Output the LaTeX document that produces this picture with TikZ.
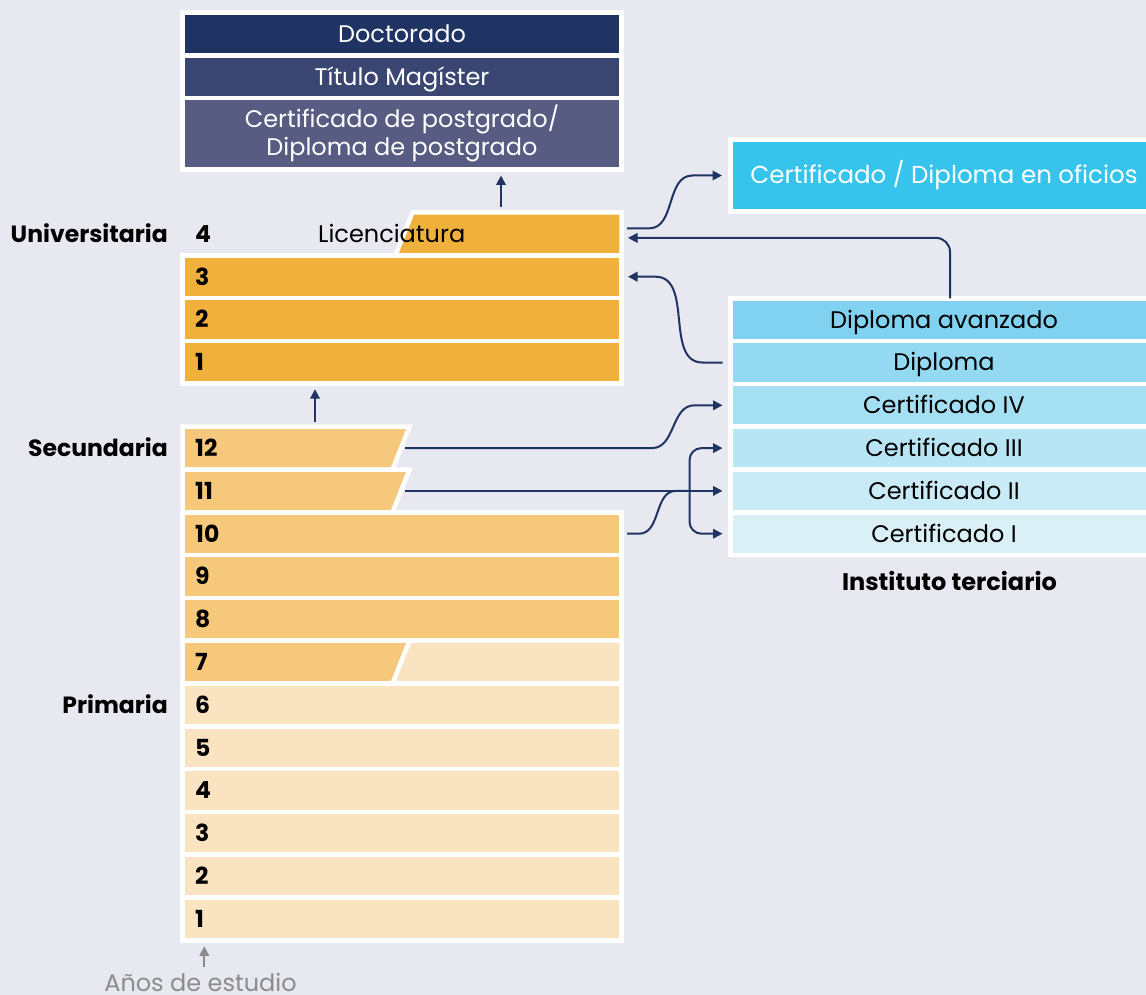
\documentclass[tikz,border=0pt]{standalone}
\usepackage{fontspec}
\setmainfont{Poppins}
\usetikzlibrary{arrows.meta,calc}
\definecolor{bg}{HTML}{E8E8F0}
\definecolor{navyA}{HTML}{1F3462}
\definecolor{navyB}{HTML}{3A4671}
\definecolor{navyC}{HTML}{585C82}
\definecolor{orgA}{HTML}{F0B13C}
\definecolor{orgB}{HTML}{F6C87B}
\definecolor{orgC}{HTML}{FAE3C1}
\definecolor{ofi}{HTML}{36C4EC}
\definecolor{blA}{HTML}{80D2F0}
\definecolor{blB}{HTML}{93D9F2}
\definecolor{blC}{HTML}{A5DFF3}
\definecolor{blD}{HTML}{B8E5F4}
\definecolor{blE}{HTML}{C9EBF5}
\definecolor{blF}{HTML}{DAF0F7}
\definecolor{lnc}{HTML}{1F3462}
\definecolor{gry}{HTML}{8C8C8C}
\begin{document}
\begin{tikzpicture}[x=1pt,y=-1pt,
  txt/.style={font=\fontsize{24}{29}\selectfont, text height=16.8pt, text depth=0pt, inner sep=0pt},
  box/.style={rectangle, draw=white, line width=4.5pt, inner sep=0pt, outer sep=0pt,
     anchor=north west, minimum height=42.8pt, txt},
  lbox/.style={box, minimum width=439pt},
  rbox/.style={box, minimum width=427pt},
  poly/.style={draw=white, line width=4.5pt, line join=miter},
  num/.style={txt, font=\fontsize{23.5}{28}\selectfont\bfseries, anchor=west},
  side/.style={txt, font=\fontsize{23.5}{28}\selectfont\bfseries, anchor=east},
  conn/.style={draw=lnc, line width=2pt, -{Triangle[length=9.5pt,width=9.5pt]}},
  both/.style={draw=lnc, line width=2pt, {Triangle[length=9.5pt,width=9.5pt]}-{Triangle[length=9.5pt,width=9.5pt]}},
  link/.style={draw=lnc, line width=2pt}
]
\useasboundingbox (0,0) rectangle (1146,995);
\fill[bg] (0,0) rectangle (1146,995);

% top boxes
\node[lbox, fill=navyA, text=white] (doc) at (182.5,12.5) {Doctorado};
\node[lbox, fill=navyB, text=white] (mag) at (182.5,55.3) {Título Magíster};
\node[lbox, fill=navyC, text=white, minimum height=71.4pt, text height=, text depth=, align=center,
      font=\fontsize{24}{28}\selectfont] (post) at (182.5,98.1) {Certificado de postgrado/\\Diploma de postgrado};

% university
\path[poly, fill=orgA] (412.5,212.5) -- (621.5,212.5) -- (621.5,255.3) -- (395.5,255.3) -- cycle;
\node[txt] (lic) at (391.7,233.9) {Licenciatura};
\coordinate (licE) at (621.5,233.9);
\node[lbox, fill=orgA] (u3) at (182.5,255.3) {};
\node[lbox, fill=orgA] (u2) at (182.5,298.1) {};
\node[lbox, fill=orgA] (u1) at (182.5,340.9) {};
\node[num] (n4u) at (195,233.9) {4};
\node[num] (n3u) at (195,276.7) {3};
\node[num] (n2u) at (195,319.5) {2};
\node[num] (n1u) at (195,362.3) {1};
\node[side] (luni) at (168,233.9) {Universitaria};

% secondary / primary
\path[poly, fill=orgB] (182.5,426.7) -- (409.5,426.7) -- (392.5,469.5) -- (182.5,469.5) -- cycle;
\coordinate (r12E) at (405,448.1);
\path[poly, fill=orgB] (182.5,469.5) -- (409.5,469.5) -- (392.5,512.3) -- (182.5,512.3) -- cycle;
\coordinate (r11E) at (405,490.9);
\node[lbox, fill=orgB] (r10) at (182.5,512.3) {};
\node[lbox, fill=orgB] (r9) at (182.5,555.1) {};
\node[lbox, fill=orgB] (r8) at (182.5,597.9) {};
\path[poly, fill=orgC] (409.5,640.7) -- (621.5,640.7) -- (621.5,683.5) -- (392.5,683.5) -- cycle;
\path[poly, fill=orgB] (182.5,640.7) -- (409.5,640.7) -- (392.5,683.5) -- (182.5,683.5) -- cycle;
\node[lbox, fill=orgC] (r6) at (182.5,683.5) {};
\node[lbox, fill=orgC] (r5) at (182.5,726.3) {};
\node[lbox, fill=orgC] (r4) at (182.5,769.1) {};
\node[lbox, fill=orgC] (r3) at (182.5,811.9) {};
\node[lbox, fill=orgC] (r2) at (182.5,854.7) {};
\node[lbox, fill=orgC] (r1) at (182.5,897.5) {};
\foreach \k/\y in {12/448.1,11/490.9,10/533.7,9/576.5,8/619.3,7/662.1,6/704.9,5/747.7,4/790.5,3/833.3,2/876.1,1/918.9}
  \node[num] (n\k) at (195,\y) {\k};
\node[side] (lsec) at (168,448.1) {Secundaria};
\node[side] (lpri) at (168,704.9) {Primaria};

% tertiary
\node[rbox, fill=ofi, text=white, minimum height=72pt, font=\fontsize{24.5}{29}\selectfont] (ofic) at (730.5,139.5) {Certificado / Diploma en oficios};
\node[rbox, fill=blA] (dav) at (730.5,298.3) {Diploma avanzado};
\node[rbox, fill=blB] (dip) at (730.5,341.1) {Diploma};
\node[rbox, fill=blC] (c4) at (730.5,383.9) {Certificado IV};
\node[rbox, fill=blD] (c3) at (730.5,426.7) {Certificado III};
\node[rbox, fill=blE] (c2) at (730.5,469.5) {Certificado II};
\node[rbox, fill=blF] (c1) at (730.5,512.3) {Certificado I};
\node[txt, font=\fontsize{24}{29}\selectfont\bfseries] (inst) at (949.5,582) {Instituto terciario};

% years
\node[txt, text=gry, anchor=base] (anos) at (200.5,991) {Años de estudio};
\coordinate (anosTop) at (204.3,967);
\draw[draw=gry, line width=2pt, -{Triangle[length=9.5pt,width=9.5pt]}] (anosTop) -- ($(r1.south west -| anosTop)+(0,6)$);

% connectors
\coordinate (licT) at (501,207);
\draw[conn] (licT) -- ($(post.south -| licT)+(0,6)$);
\coordinate (secT) at (315,421.7);
\draw[conn] (secT) -- ($(u1.south -| secT)+(0,5.5)$);

\draw[conn] ($(licE)+(5.5,-5.5)$) -- ++(22,0) to[out=0,in=180] ($(ofic.west)+(-38,0)$) -- ($(ofic.west)+(-8.5,0)$);
\draw[conn, rounded corners=14pt] ($(dav.north)+(6,0)$) |- ($(licE)+(6.5,4)$);
\draw[conn] ($(dip.west)+(-8,0)$) -- ++(-20,0) to[out=180,in=0] ($(u3.east)+(34,0)$) -- ($(u3.east)+(6.5,0)$);
\draw[conn] (r12E) -- (652,448.1) to[out=0,in=180] ($(c4.west)+(-36,0)$) -- ($(c4.west)+(-8,0)$);
\draw[conn] (r11E) -- ($(c2.west)+(-8,0)$);
\draw[link] ($(r10.east)+(5.5,0)$) -- ++(12,0) to[out=0,in=180] (676,490.9) -- (690,490.9);
\draw[both, rounded corners=12pt] ($(c3.west)+(-8,0)$) -| (689.5,490.9) |- ($(c1.west)+(-8,0)$);
\end{tikzpicture}
\end{document}
